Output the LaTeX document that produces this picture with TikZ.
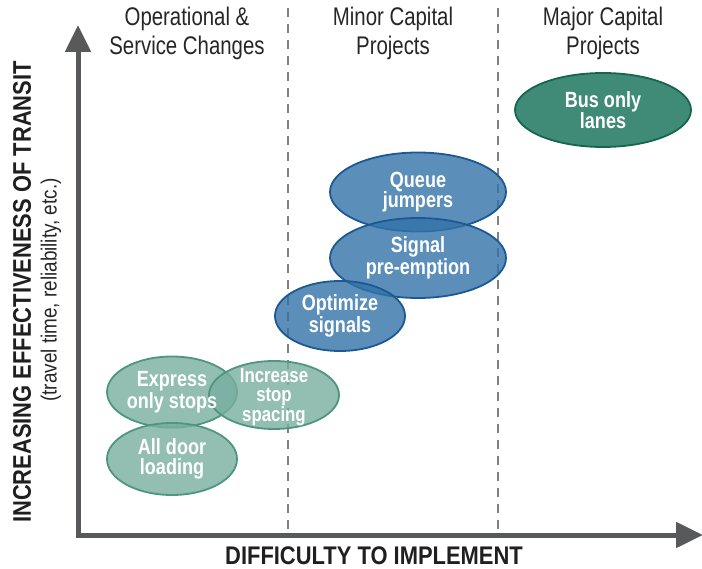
\documentclass[tikz,border=0pt]{standalone}
\usepackage{fontspec}
\setmainfont{Liberation Sans}[FakeStretch=0.82]
\newfontfamily\hdrfont{Liberation Sans}[FakeStretch=0.8]
\newfontfamily\subfont{Liberation Sans}[FakeStretch=0.86]
\newfontfamily\axfont{Liberation Sans}[FakeStretch=0.86]
\usetikzlibrary{arrows.meta,shapes.geometric}
\definecolor{axisgray}{RGB}{88,89,91}
\definecolor{dashgray}{RGB}{128,128,128}
\definecolor{bluefill}{RGB}{50,115,169}
\definecolor{blueline}{RGB}{28,88,148}
\definecolor{greenfill}{RGB}{120,174,159}
\definecolor{greenline}{RGB}{78,150,128}
\definecolor{tealfill}{RGB}{64,138,120}
\definecolor{tealline}{RGB}{22,102,78}
\tikzset{
  axisline/.style={draw=axisgray, line width=5pt, line join=miter,
    {Triangle[length=27pt,width=25pt]}-{Triangle[length=27pt,width=25pt]}},
  divider/.style={draw=dashgray, line width=1.6pt, dash pattern=on 9pt off 7pt},
  header/.style={align=center, font=\hdrfont\fontsize{25.5}{29}\selectfont, text=black!85},
  bub/.style={ellipse, inner sep=0pt, line width=1.8pt, fill opacity=0.8},
  bluebub/.style={bub, draw=blueline, fill=bluefill},
  greenbub/.style={bub, draw=greenline, fill=greenfill},
  tealbub/.style={bub, draw=tealline, fill=tealfill, fill opacity=1},
  bublabel/.style={text=white, align=center, inner sep=0pt,
    font=\bfseries\fontsize{22}{20.5}\selectfont},
  axislabel/.style={font=\axfont\bfseries\fontsize{25.5}{25.5}\selectfont, text=black!88},
}
\begin{document}
\begin{tikzpicture}[x=1pt,y=-1pt]
\useasboundingbox (0,0) rectangle (702,569);
% dividers
\coordinate (d1top) at (288,8);
\coordinate (d1bot) at (288,533);
\coordinate (d2top) at (498,8);
\coordinate (d2bot) at (498,533);
\draw[divider] (d1top) -- (d1bot);
\draw[divider] (d2top) -- (d2bot);
% axes
\coordinate (ytip) at (78,25);
\coordinate (origin) at (78,535);
\coordinate (xtip) at (703,535);
\draw[axisline] (ytip) -- (origin) -- (xtip);
% headers
\node[header] (h1) at (187,33) {Operational \&\\Service Changes};
\node[header] (h2) at (393,33) {Minor Capital\\Projects};
\node[header] (h3) at (603,33) {Major Capital\\Projects};
% axis labels
\node[axislabel] (xl) at (374,556) {DIFFICULTY TO IMPLEMENT};
\node[axislabel, rotate=90] (yl) at (22,292) {INCREASING EFFECTIVENESS OF TRANSIT};
\node[rotate=90, font=\subfont\fontsize{22}{22}\selectfont, text=black!85] (ys) at (51,290) {(travel time, reliability, etc.)};
% bubbles
\node[tealbub, minimum width=176pt, minimum height=74pt] (bus) at (603,110) {};
\node[bluebub, minimum width=176pt, minimum height=79pt] (queue) at (418,192) {};
\node[bluebub, minimum width=176pt, minimum height=80pt] (signal) at (418,258) {};
\node[bluebub, minimum width=130pt, minimum height=70pt] (opt) at (340,316) {};
\node[greenbub, minimum width=130pt, minimum height=71pt] (express) at (172,392) {};
\node[greenbub, minimum width=130pt, minimum height=68pt] (incr) at (274,395) {};
\node[greenbub, minimum width=130pt, minimum height=72pt] (door) at (172,459) {};
% bubble labels
\node[bublabel] (busT) at (bus) {Bus only\\lanes};
\node[bublabel] (queueT) at (queue) {Queue\\jumpers};
\node[bublabel] (signalT) at (signal) {Signal\\pre-emption};
\node[bublabel] (optT) at (opt) {Optimize\\signals};
\node[bublabel] (expressT) at (express) {Express\\only stops};
\node[bublabel, font=\bfseries\fontsize{20.5}{19.5}\selectfont] (incrT) at ([yshift=-2pt]incr.center) {Increase\\stop\\spacing};
\node[bublabel] (doorT) at (door) {All door\\loading};
\end{tikzpicture}
\end{document}
